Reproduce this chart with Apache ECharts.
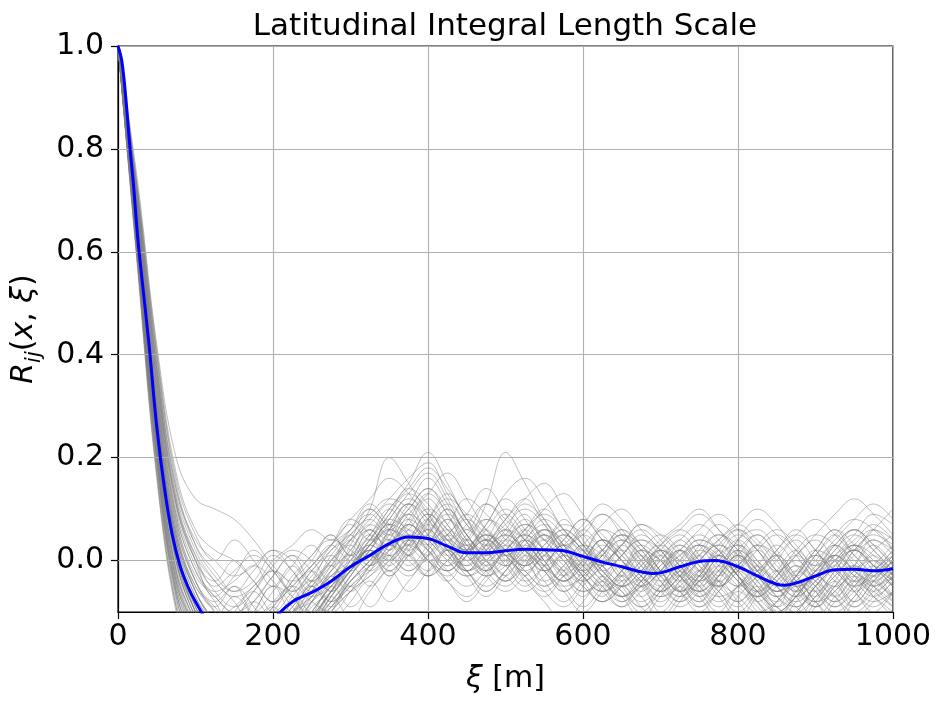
<!DOCTYPE html>
<html>
<head>
<meta charset="utf-8">
<script src="https://cdn.jsdelivr.net/npm/echarts@6/dist/echarts.min.js"></script>
<style>
  html, body { margin: 0; padding: 0; background: #fff; }
  #main { width: 945px; height: 710px; }
</style>
</head>
<body>
<div id="main"></div>
<script>
// lag distances shared by the individual runs
const xs = [0, 25, 50, 75, 100, 125, 150, 175, 200, 225, 250, 275, 300, 325, 350, 375, 400,
  425, 450, 475, 500, 525, 550, 575, 600, 625, 650, 675, 700, 725, 750, 775, 800,
  825, 850, 875, 900, 925, 950, 975, 1000]

// individual correlation runs (grey)
const runs = [
  [1,.68,.33,.08,-.04, -.10,-.16,-.20,-.18,-.12,-.06,.00,.05, .09,.12,.10,.05,.01,-.02,.01,.06, .04,-.01,-.05,-.03,.02,.05,.03,-.02, -.06,-.04,.01,.03,-.01,-.07,-.09,-.05, .00,.03,.01,-.03],
  [1,.62,.24,-.02,-.12, -.20,-.25,-.22,-.15,-.10,-.08,-.04,.02, .06,.04,.08,.13,.09,.02,-.03,-.01, .04,.07,.03,-.03,-.06,-.02,.03,.00, -.05,-.08,-.03,.04,.06,.02,-.04,-.08, -.06,-.01,.04,.02],
  [1,.72,.40,.15,.03, -.03,-.06,-.04,.01,-.02,-.07,-.05,.00, .04,.09,.14,.11,.06,.03,.07,.12, .08,.02,-.03,.01,.06,.04,-.02,-.06, -.03,.03,.07,.04,-.02,-.06,-.04,.01, .05,.08,.06,.02],
  [1,.58,.18,-.08,-.20, -.30,-.34,-.30,-.24,-.17,-.12,-.09,-.05, -.01,.03,.01,-.03,.00,.05,.08,.04, .00,.03,.07,.05,-.01,-.05,-.03,.02, .05,.01,-.04,-.07,-.10,-.08,-.03,.02, .00,-.05,-.08,-.06],
  [1,.66,.30,.05,-.06, -.12,-.18,-.22,-.19,-.13,-.07,-.03,-.01, .03,.08,.13,.17,.12,.05,.02,.06, .11,.08,.03,.05,.09,.06,.00,-.04, -.02,.02,.00,-.04,-.08,-.11,-.06,-.02, .01,-.02,-.05,-.03],
  [1,.64,.27,.02,-.09, -.14,-.11,-.08,-.12,-.16,-.12,-.06,.00, .05,.03,.06,.10,.07,.01,-.02,.02, .05,.02,-.02,-.06,-.04,.01,.04,.02, -.03,-.07,-.04,.02,.05,.01,-.05,-.08, -.04,.02,.05,.03],
  [1,.70,.36,.12,.01, -.05,-.02,.01,-.02,-.07,-.11,-.08,-.03, .02,.07,.05,.00,-.02,.02,.05,.02, -.02,-.05,-.02,.03,.01,-.04,-.08,-.05, .00,.04,.02,-.03,-.06,-.03,.02,.05, .03,-.02,-.04,-.01],
  [1,.60,.21,-.05,-.15, -.22,-.28,-.32,-.27,-.19,-.11,-.04,.03, .10,.20,.15,.09,.04,.02,.06,.10, .06,.00,-.04,-.01,.04,.02,-.03,-.07, -.05,.00,.03,.01,-.03,-.07,-.10,-.07, -.02,.02,-.01,-.04],
  [1,.67,.31,.06,-.05, -.09,-.13,-.10,-.05,-.07,-.11,-.07,-.02, .01,-.02,.02,.07,.04,.00,.03,.08, .12,.15,.10,.04,.00,.03,.07,.05, .01,-.03,-.05,-.02,.03,.01,-.04,-.06, -.02,.03,.06,.04],
  [1,.63,.25,.00,-.11, -.17,-.22,-.26,-.23,-.16,-.10,-.05,-.02, .02,.06,.04,.00,-.03,.01,.04,.01, -.02,.01,.05,.02,-.03,-.07,-.04,.01, .04,.07,.04,-.01,-.05,-.09,-.12,-.08, -.03,-.01,-.04,-.07],
  [1,.74,.42,.20,.12, .10,.08,.04,-.01,-.04,-.01,.03,.00, .04,.08,.06,.03,.05,.09,.06,.02, -.01,.02,.06,.03,-.02,-.05,-.02,.03, .06,.03,-.02,-.05,-.03,.02,.05,.02, -.03,-.06,-.03,.01],
  [1,.59,.19,-.07,-.18, -.26,-.30,-.27,-.20,-.14,-.09,-.06,-.02, .03,.06,.10,.14,.10,.04,.00,.03, .07,.05,.01,-.03,-.06,-.03,.02,.00, -.04,-.02,.03,.06,.03,-.02,-.05,-.03, .02,.05,.02,-.02],
  [1,.65,.28,.03,-.08, -.13,-.15,-.12,-.08,-.05,-.08,-.10,-.06, -.01,.04,.02,.07,.11,.07,.03,-.01, .02,.06,.04,.00,-.04,-.07,-.05,-.01, .02,.05,.02,-.03,-.07,-.04,.01,.04, .00,-.04,-.02,.02],
  [1,.61,.23,-.03,-.13, -.19,-.23,-.21,-.16,-.11,-.07,-.03,.01, .05,.10,.15,.21,.15,.08,.04,.07, .10,.07,.02,-.02,.01,.04,.01,-.03, -.06,-.09,-.06,-.01,.02,-.02,-.06,-.09, -.06,-.02,.00,-.03],
  [1,.69,.35,.10,-.01, -.06,-.04,-.01,-.04,-.09,-.13,-.09,-.04, .00,.03,.07,.04,.00,-.03,.00,.04, .02,-.01,.02,.06,.09,.05,.00,-.03, .00,.03,.01,-.03,-.06,-.10,-.07,-.03, .00,.02,-.01,-.05],
  [1,.57,.16,-.10,-.22, -.32,-.38,-.36,-.30,-.22,-.15,-.10,-.06, -.03,.00,.04,.02,-.02,-.05,-.02,.02, .05,.02,-.02,-.05,-.08,-.05,.00,.03, .00,-.04,-.07,-.05,-.01,-.05,-.09,-.12, -.08,-.04,-.07,-.10],
  [1,.66,.29,.04,-.07, -.11,-.09,-.05,-.02,-.06,-.03,.02,.06, .10,.07,.11,.16,.11,.05,.01,.04, .08,.04,.00,-.04,-.01,.03,.06,.03, -.01,-.04,-.01,.04,.08,.05,.01,-.03, .01,.05,.09,.07],
  [1,.63,.26,.01,-.10, -.18,-.24,-.28,-.25,-.18,-.13,-.08,-.04, -.01,.02,.05,.03,-.01,.02,.07,.13, .16,.12,.06,.02,-.02,.01,.05,.02, -.03,-.06,-.03,.01,-.02,-.06,-.03,.01, -.02,-.06,-.09,-.06],
  [1,.71,.38,.13,.02, -.04,-.08,-.13,-.10,-.04,.01,.04,.02, -.01,.03,.08,.05,.01,.04,.11,.21, .15,.08,.03,-.01,.02,.06,.03,-.02, -.06,-.03,.01,-.02,-.06,-.09,-.06,-.01, .03,.00,-.03,.00],
  [1,.60,.22,-.04,-.14, -.21,-.26,-.24,-.19,-.14,-.08,-.05,-.09, -.05,.00,.03,.00,-.04,-.07,-.03,.01, -.02,-.06,-.09,-.05,.00,.04,.01,-.04, -.07,-.04,.00,-.03,-.08,-.12,-.10,-.05, -.02,-.05,-.03,.00],
  [1,.68,.34,.09,-.02, -.07,-.10,-.08,-.03,.01,-.02,-.06,-.02, .03,.01,.04,.09,.06,.02,.05,.03, -.01,.02,.05,.02,-.02,-.05,-.02,.02, .00,-.03,.01,.05,.02,-.03,-.06,-.02, .03,.06,.03,-.01],
  [1,.62,.25,.00,-.11, -.16,-.19,-.16,-.12,-.08,-.04,.00,.04, .08,.12,.16,.19,.13,.07,.02,-.01, .02,.05,.02,-.03,-.06,-.04,.00,.04, .07,.10,.06,.01,-.03,-.06,-.03,.02, .06,.03,-.02,-.05],
  [1,.64,.28,.04,-.06, -.12,-.17,-.21,-.17,-.11,-.05,-.08,-.04, .00,.05,.09,.06,.02,-.02,-.05,-.02, .03,.06,.03,-.01,-.05,-.08,-.05,-.01, .02,-.01,-.05,-.08,-.05,-.09,-.11,-.07, -.03,.01,.04,.01],
  [1,.59,.20,-.06,-.17, -.24,-.29,-.33,-.29,-.21,-.13,-.07,-.02, .02,.00,.04,.08,.12,.09,.04,.01, .04,.08,.05,.01,-.03,-.06,-.09,-.06, -.02,.01,.04,.07,.04,.00,-.05,-.03, .01,-.03,-.06,-.03],
  [1,.73,.41,.17,.06, .02,.00,-.04,-.08,-.05,-.01,.03,.07, .04,.09,.13,.10,.05,.02,.04,.00, -.04,-.01,.03,.00,-.04,-.07,-.04,.00, .03,.00,-.04,-.01,.03,.06,.03,-.02, -.05,-.02,.02,.05],
  [1,.61,.22,-.04,-.15, -.23,-.27,-.25,-.20,-.15,-.11,-.06,-.01, .04,.01,-.02,.02,.06,.03,-.01,.02, .06,.09,.06,.02,-.01,.03,.07,.04, -.01,-.05,-.02,.02,-.01,-.05,-.08,-.05, -.01,.02,-.01,-.04],
  [1,.67,.32,.07,-.04, -.08,-.05,-.09,-.14,-.17,-.13,-.07,-.02, .03,.08,.12,.09,.04,.00,-.03,.00, .04,.01,-.03,-.06,-.03,.01,.04,.01, -.03,-.06,-.03,.01,-.03,-.07,-.04,.00, .04,.08,.11,.08],
  [1,.63,.27,.02,-.09, -.15,-.20,-.17,-.13,-.09,-.04,.01,-.02, .02,.06,.03,.00,.03,.08,.05,.01, .05,.10,.13,.09,.04,.00,-.03,-.06, -.03,.01,.05,.03,-.01,-.04,-.07,-.04, .00,.03,.00,-.03],
  [1,.65,.30,.05,-.05, -.10,-.14,-.18,-.15,-.10,-.06,-.02,.01, -.02,.02,.07,.04,.00,-.03,-.01,.03, .00,-.04,-.01,.03,.07,.10,.06,.02, -.02,-.05,-.08,-.05,-.02,.01,-.03,-.06, -.09,-.06,-.02,.01],
  [1,.58,.17,-.09,-.21, -.31,-.36,-.33,-.26,-.19,-.12,-.06,-.01, .03,.07,.11,.08,.03,-.01,.02,.05, .02,-.02,-.06,-.03,.01,.05,.02,-.02, .01,.04,.02,-.03,-.07,-.10,-.07,-.03, -.06,-.09,-.06,-.02],
  [1,.70,.37,.11,.00, -.06,-.09,-.06,-.01,.02,.00,-.04,-.01, .04,.10,.14,.18,.14,.08,.03,.05, .02,-.01,-.04,-.01,.03,.00,-.04,-.07, -.04,.00,.03,.00,-.04,-.07,-.03,.01, -.02,-.05,-.02,.02],
  [1,.62,.24,-.01,-.12, -.18,-.21,-.18,-.14,-.10,-.13,-.09,-.05, -.02,.01,-.02,.01,.04,.01,-.03,-.06, -.03,.01,.04,.08,.05,.01,-.03,-.06, -.03,.02,.05,.02,-.02,-.05,-.02,-.05, -.08,-.05,-.01,-.04],
  [1,.66,.31,.06,-.06, -.12,-.16,-.14,-.09,-.05,-.01,.03,.06, .09,.06,.10,.14,.09,.04,.08,.06, .02,-.02,.01,.05,.02,-.02,-.05,-.02, .02,.06,.09,.06,.02,-.02,.01,.05, .09,.12,.09,.05],
  [1,.60,.20,-.06,-.16, -.23,-.27,-.30,-.27,-.22,-.16,-.10,-.06, -.03,.01,.05,.02,-.02,.01,.04,.01, -.03,-.06,-.03,.00,.04,.01,-.03,-.06, -.09,-.06,-.02,-.05,-.09,-.12,-.08,-.04, -.01,-.04,-.07,-.04],
  [1,.69,.35,.11,.01, -.04,-.07,-.05,.00,.03,.06,.04,.08, .12,.16,.13,.08,.04,.07,.11,.08, .04,.00,.03,.07,.11,.08,.03,.00, -.03,.00,.04,.07,.10,.07,.02,-.01, .03,.06,.03,-.01],
  [1,.64,.26,.01,-.10, -.17,-.22,-.20,-.15,-.10,-.07,-.03,.00, .03,.00,-.03,.01,.05,.02,-.01,-.04, -.01,.02,-.01,-.05,-.08,-.05,-.01,.02, -.01,-.04,-.01,.03,.00,-.04,-.07,-.03, .01,-.02,-.05,-.08],
  [1,.67,.33,.08,-.03, -.07,-.11,-.15,-.12,-.07,-.02,.02,.05, .08,.05,.09,.13,.17,.12,.06,.02, -.01,.03,.06,.03,-.01,-.04,-.01,.03, .06,.09,.06,.02,-.02,.01,.05,.08, .05,.01,-.02,.01],
  [1,.61,.23,-.02,-.13, -.19,-.23,-.26,-.22,-.16,-.10,-.05,-.01, .02,-.01,.03,.06,.02,-.02,.00,.04, .07,.04,.00,-.04,-.01,.02,-.01,-.05, -.08,-.05,-.01,-.04,-.08,-.11,-.07,-.02, .00,-.03,-.06,-.09],
  [1,.72,.39,.14,.04, .00,-.03,-.01,.02,.00,-.04,.00,.04, .07,.11,.08,.04,.07,.12,.09,.05, .01,-.02,.01,-.02,-.05,-.02,.02,.05, .02,-.02,-.05,-.02,.02,.05,.02,-.02, .01,.04,.07,.04],
  [1,.63,.25,.00,-.10, -.16,-.20,-.23,-.19,-.13,-.08,-.03,-.06, -.02,.03,.00,-.03,.00,.03,.00,-.03, -.06,-.03,.01,-.02,-.06,-.09,-.06,-.02, .01,.03,.00,-.04,-.07,-.04,-.01,-.04, -.07,-.10,-.07,-.03],
  [1,.66,.29,.03,-.09, -.16,-.12,-.06,-.02,-.05,-.10,-.06,.01, .07,.04,-.01,.03,.08,.04,-.02,-.05, -.01,.04,.01,-.04,-.08,-.05,-.09,-.12, -.08,-.03,.01,-.03,-.08,-.05,-.01,-.06, -.10,-.07,-.02,-.05],
  [1,.62,.23,-.03,-.14, -.22,-.20,-.14,-.09,-.13,-.08,-.02,.04, .00,.06,.11,.07,.02,.06,.02,-.03, .01,-.04,-.08,-.04,.01,-.03,-.07,-.03, .02,-.02,-.06,-.09,-.06,-.10,-.07,-.03, -.07,-.11,-.08,-.04],
  [1,.70,.37,.12,.00, -.07,-.03,.02,-.02,-.06,-.02,.03,.08, .05,.00,.04,.09,.05,.00,.04,.09, .05,.00,-.04,.00,.04,.00,-.05,-.02, .03,-.01,-.05,-.01,.03,-.01,-.05,-.09, -.05,-.01,.03,-.01],
  [1,.60,.21,-.05,-.15, -.21,-.17,-.22,-.18,-.12,-.16,-.10,-.05, -.09,-.04,.01,-.03,.02,-.02,-.06,-.02, .03,-.01,-.05,-.09,-.05,-.01,-.05,-.09, -.05,-.09,-.05,-.01,-.05,-.09,-.04,-.08, -.11,-.07,-.03,-.07],
  [1,.67,.32,.07,-.04, -.09,-.05,-.10,-.06,-.01,.03,-.01,.04, .10,.06,.01,.05,.10,.06,.11,.07, .02,.06,.02,-.02,.02,-.02,-.06,-.02, .02,-.02,.02,-.02,-.06,-.02,.02,-.01, .03,-.01,-.05,-.02],
  [1,.64,.27,.02,-.10, -.18,-.15,-.19,-.14,-.08,-.04,-.08,-.03, .02,-.02,.03,.08,.03,-.01,.03,-.01, -.05,-.01,.03,-.01,-.05,-.09,-.05,-.10, -.06,-.02,-.06,-.10,-.06,-.02,-.07,-.11, -.07,-.03,-.07,-.11],
  [1,.72,.40,.16,.05, .00,.04,.00,-.05,-.01,-.05,-.01,.05, .01,.06,.11,.06,.10,.05,.01,.05, .09,.04,.08,.03,-.01,.03,-.01,-.05, -.01,.03,-.01,-.05,-.02,.02,.06,.02, -.02,.02,.06,.10],
  [1,.59,.19,-.07,-.18, -.25,-.21,-.16,-.20,-.15,-.10,-.05,-.01, -.05,-.01,.04,.00,-.04,.01,.05,.01, -.03,-.07,-.03,.01,-.03,-.07,-.11,-.07, -.03,-.07,-.03,.01,-.04,-.08,-.05,-.09, -.05,-.01,-.05,-.09],
  [1,.65,.29,.04,-.07, -.13,-.18,-.14,-.09,-.04,.00,.05,.01, .06,.02,.07,.03,-.01,.04,.00,-.04, .00,.05,.01,-.03,.01,.05,.01,-.03, -.07,-.03,.01,-.03,-.07,-.03,.00,-.04, -.08,-.04,.00,-.04],
  [1,.61,.22,-.04,-.13, -.19,-.15,-.10,-.05,-.10,-.05,-.01,-.05, -.01,.04,.09,.04,.08,.03,-.02,.02, -.03,.01,-.03,-.07,-.03,-.07,-.03,.01, -.03,-.07,-.11,-.07,-.03,.01,-.03,-.07, -.04,-.08,-.04,.00],
  [1,.68,.34,.09,-.02, -.08,-.13,-.08,-.03,.01,-.04,.01,.06, .11,.07,.03,.08,.13,.08,.04,.00, .04,.00,-.04,.00,.04,.00,-.04,-.08, -.04,.01,-.03,.01,.05,.01,-.03,.01, .05,.01,-.03,-.07],
  [1,.63,.25,.00,-.11, -.17,-.13,-.17,-.22,-.17,-.12,-.07,-.11, -.06,-.02,-.06,-.02,.02,-.02,-.06,-.02, .02,-.02,-.06,-.10,-.06,-.02,.02,-.02, -.06,-.10,-.06,-.02,-.06,-.10,-.13,-.09, -.05,-.09,-.05,-.01],
  [1,.69,.36,.11,.00, -.04,.00,-.04,-.08,-.03,.01,.05,.01, .05,.10,.05,.01,.05,.09,.14,.09, .04,.00,.04,.08,.04,.00,-.04,.00, .04,.00,-.04,-.08,-.04,.00,.04,.00, -.04,-.08,-.04,.00],
  [1,.58,.17,-.09,-.20, -.27,-.23,-.27,-.23,-.18,-.13,-.08,-.03, .01,-.03,.01,.05,.01,-.03,-.07,-.03, .01,.05,.01,-.03,-.07,-.03,-.07,-.11, -.07,-.03,-.07,-.11,-.07,-.03,.01,-.03, -.07,-.03,.01,-.03],
  [1,.66,.30,.05,-.06, -.11,-.07,-.11,-.15,-.10,-.05,-.09,-.04, .00,.05,.01,.06,.02,-.02,.02,.06, .02,-.02,-.06,-.02,.02,.06,.02,-.02, -.06,-.02,.02,.06,.02,-.02,-.06,-.02, .02,.06,.02,-.02],
  [1,.62,.24,-.02,-.12, -.19,-.24,-.19,-.14,-.09,-.05,-.01,.03, -.01,.03,.07,.12,.07,.02,-.02,.02, .06,.02,-.02,.02,-.02,-.06,-.10,-.06, -.02,-.06,-.10,-.06,-.10,-.14,-.10,-.06, -.02,-.06,-.10,-.06],
  [1,.71,.38,.14,.03, -.02,-.06,-.02,.02,-.02,-.06,-.02,.02, .06,.02,.06,.02,-.02,.02,.06,.02, .06,.10,.06,.02,.06,.02,-.02,.02, -.02,-.06,-.02,.02,-.02,-.06,-.02,.02, .06,.02,.06,.02],
  [1,.60,.20,-.06,-.16, -.22,-.27,-.23,-.18,-.14,-.18,-.13,-.08, -.04,-.08,-.04,.00,-.04,-.08,-.04,.00, -.04,-.08,-.12,-.08,-.04,-.08,-.04,.00, -.04,-.08,-.04,-.08,-.12,-.08,-.04,-.08, -.12,-.08,-.04,-.08],
  [1,.65,.28,.03,-.08, -.14,-.10,-.06,-.10,-.06,-.02,-.06,-.01, .03,.07,.02,-.02,.02,-.02,.03,.08, .12,.07,.02,.06,.02,-.03,.01,-.04, -.08,-.04,.00,.04,.00,-.05,-.09,-.05, -.01,.03,-.01,-.05],
  [1,.64,.26,.01,-.10, -.16,-.21,-.17,-.12,-.16,-.11,-.06,-.02, .02,-.03,.01,.05,.09,.05,.00,-.04, .00,-.05,-.01,.03,-.01,-.05,-.09,-.05, -.01,-.05,-.09,-.05,-.01,.03,-.01,-.05, -.09,-.05,-.01,.03]
]

// ensemble mean (blue)
const meanX = [0, 5, 10, 15, 20, 25, 30, 40, 50, 60, 70, 80, 90, 100, 125, 150, 175, 200, 225,
  250, 275, 300, 325, 350, 375, 400, 425, 450, 475, 500, 525, 550, 575, 600, 625, 650,
  675, 690, 700, 725, 750, 770, 800, 825, 850, 860, 875, 900, 925, 950, 975, 1000]
const meanY = [1.0, 0.97, 0.9, 0.81, 0.73, 0.635, 0.56, 0.42, 0.26, 0.14, 0.05, -0.01, -0.05, -0.08,
  -0.14, -0.17, -0.165, -0.115, -0.08, -0.062, -0.04, -0.012, 0.01, 0.033, 0.046, 0.043, 0.028,
  0.015, 0.015, 0.019, 0.022, 0.021, 0.019, 0.008, -0.003, -0.012, -0.022, -0.025, -0.024,
  -0.012, -0.002, 0.0, -0.012, -0.03, -0.046, -0.048, -0.044, -0.03, -0.018, -0.017, -0.02, -0.016]

const yTicks = [0.0, 0.2, 0.4, 0.6, 0.8, 1.0]

runs.forEach((r, i) => {
  if (r.length !== xs.length) throw new Error('run ' + i + ' has ' + r.length + ' values')
})

const chart = echarts.init(document.getElementById('main'), null, { renderer: 'canvas' })
const font = 'DejaVu Sans'

const series = runs.map((r, i) => ({
  type: 'line',
  data: r.map((v, k) => [xs[k], v]),
  showSymbol: false,
  smooth: 0.4,
  silent: true,
  z: 2,
  lineStyle: { width: 0.8, color: 'rgba(125,125,125,0.62)' }
}))

// horizontal grid lines (axis min is -0.1 so the split lines can't follow the ticks)
series.push({
  type: 'line',
  data: [],
  z: 1,
  silent: true,
  markLine: {
    silent: true,
    symbol: 'none',
    label: { show: false },
    lineStyle: { color: '#b0b0b0', width: 1.1, type: 'solid' },
    data: yTicks.map(v => ({ yAxis: v }))
  }
})

series.push({
  type: 'line',
  data: meanX.map((x, k) => [x, meanY[k]]),
  showSymbol: false,
  smooth: 0.4,
  z: 5,
  lineStyle: { width: 3, color: '#0000ff' }
})

const option = {
  animation: false,
  backgroundColor: '#fff',
  graphic: [{
    type: 'text',
    x: 505,
    y: 27,
    style: {
      text: 'Latitudinal Integral Length Scale',
      font: '31px "DejaVu Sans"',
      fill: '#000',
      align: 'center',
      verticalAlign: 'middle'
    }
  }],
  grid: {
    left: 118, right: 52, top: 46, bottom: 98,
    show: true, borderColor: '#000', borderWidth: 1.2
  },
  xAxis: {
    type: 'value',
    min: 0, max: 1000, interval: 200,
    name: '{g|ξ} [m]',
    nameLocation: 'middle',
    nameGap: 52,
    nameTextStyle: {
      fontFamily: font, fontSize: 30, color: '#000',
      rich: { g: { fontFamily: font, fontSize: 30, fontStyle: 'italic', color: '#000' } }
    },
    axisLine: { show: true, onZero: false, lineStyle: { color: '#000', width: 1.2 } },
    axisTick: { show: true, length: 7, lineStyle: { color: '#000', width: 1.2 } },
    axisLabel: { fontFamily: font, fontSize: 30, color: '#000', margin: 10, formatter: v => String(v) },
    splitLine: { show: true, lineStyle: { color: '#b0b0b0', width: 1.1 } }
  },
  yAxis: {
    type: 'value',
    min: -0.1, max: 1.0,
    name: '{i|R}{s|ij}{n|(}{i|x}{n|, }{i|ξ}{n|)}',
    nameLocation: 'middle',
    nameRotate: 90,
    nameGap: 72,
    nameTextStyle: {
      fontFamily: font, fontSize: 30, color: '#000',
      rich: {
        i: { fontFamily: font, fontSize: 30, fontStyle: 'italic', color: '#000', verticalAlign: 'bottom', lineHeight: 34 },
        n: { fontFamily: font, fontSize: 30, color: '#000', verticalAlign: 'bottom', lineHeight: 34 },
        s: { fontFamily: font, fontSize: 21, fontStyle: 'italic', color: '#000', verticalAlign: 'bottom', lineHeight: 22, padding: [0, 0, -6, 0] }
      }
    },
    axisLine: { show: true, onZero: false, lineStyle: { color: '#000', width: 1.2 } },
    axisTick: { show: true, length: 7, customValues: yTicks, lineStyle: { color: '#000', width: 1.2 } },
    axisLabel: {
      fontFamily: font, fontSize: 30, color: '#000', margin: 14,
      customValues: yTicks,
      formatter: v => v.toFixed(1)
    },
    splitLine: { show: false }
  },
  series: series
}

chart.setOption(option)
</script>
</body>
</html>
